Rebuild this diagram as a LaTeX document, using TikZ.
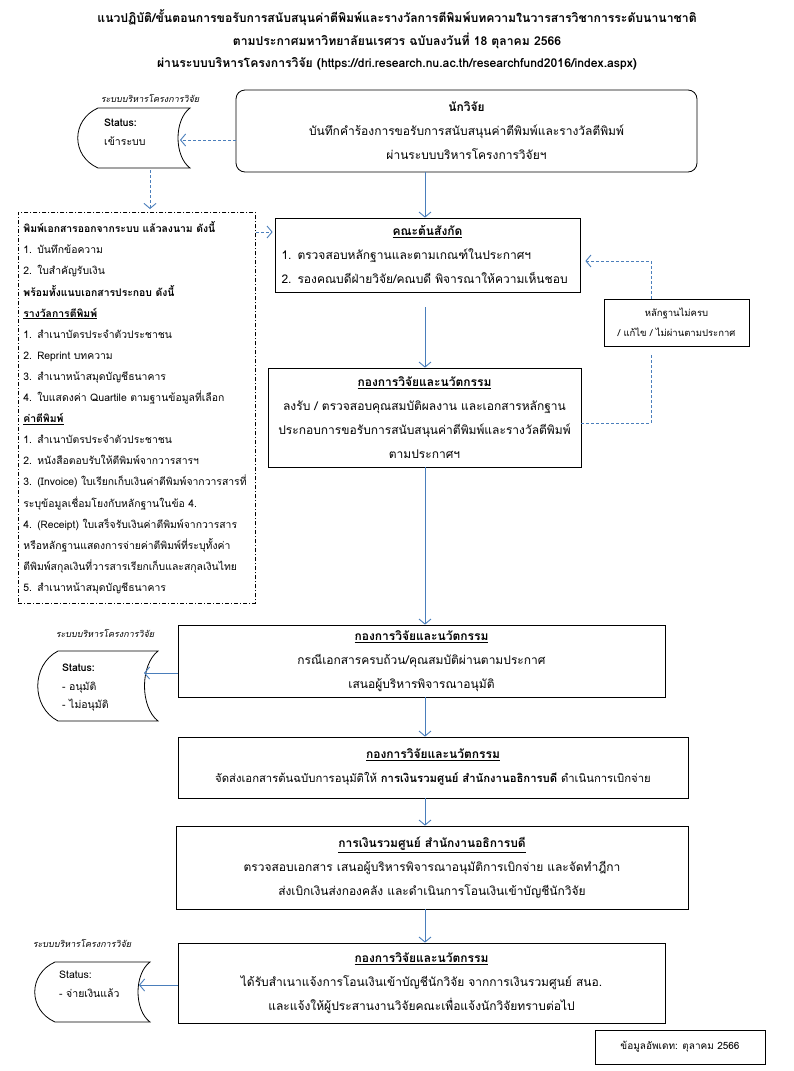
\documentclass[tikz,border=0pt]{standalone}
\usepackage{fontspec}
\setmainfont{Loma}[Script=Thai]
\usetikzlibrary{arrows.meta, positioning, calc}
\definecolor{flowblue}{RGB}{74,126,187}

\begin{document}
\begin{tikzpicture}[x=1pt, y=-1pt,
  box/.style={draw, line width=0.8pt, align=center, inner sep=3pt, font=\fontsize{12}{24}\selectfont},
  flow/.style={-{Straight Barb[length=5pt,width=12pt]}, flowblue, line width=0.9pt},
  dflow/.style={flow, dash pattern=on 3pt off 2pt},
  sysname/.style={font=\itshape\fontsize{9}{11}\selectfont},
  stat/.style={align=left, anchor=north west, inner sep=0pt, font=\fontsize{10.5}{18.5}\selectfont}]
\useasboundingbox (0,0) rectangle (794,1071);
% Title
\node[font=\bfseries\fontsize{12.2}{22.5}\selectfont, align=center] (title) at (397,40)
  {แนวปฏิบัติ/ขั้นตอนการขอรับการสนับสนุนค่าตีพิมพ์และรางวัลการตีพิมพ์บทความในวารสารวิชาการระดับนานาชาติ\\
   ตามประกาศมหาวิทยาลัยนเรศวร ฉบับลงวันที่ 18 ตุลาคม 2566\\
   ผ่านระบบบริหารโครงการวิจัย (https://dri.research.nu.ac.th/researchfund2016/index.aspx)};
% Main column x of the solid arrows
\coordinate (col) at (425,0);
% Researcher
\node[box, rounded corners=9pt, minimum width=461, minimum height=82] (researcher) at (466.5,131)
  {\textbf{นักวิจัย}\\บันทึกคำร้องการขอรับการสนับสนุนค่าตีพิมพ์และรางวัลตีพิมพ์\\ผ่านระบบบริหารโครงการวิจัยฯ};
% Status 1 (stored data shape)
\node[sysname] (sys1) at (150,98) {ระบบบริหารโครงการวิจัย};
\draw[line width=0.8pt] (98,108) -- (190,108) .. controls (174,120) and (174,156) .. (190,168)
  -- (98,168) .. controls (71,156) and (71,120) .. (98,108) -- cycle;
\node[stat] (stat1) at (104,119) {\textbf{Status:}\\เข้าระบบ};
\coordinate (s1in) at (180,140);
\coordinate (s1out) at (150,170);
% Faculty
\node[box, minimum width=305, minimum height=74, text width=292, align=left] (faculty) at (427.5,255)
  {\makebox[\linewidth][c]{\underline{\textbf{คณะต้นสังกัด}}}\\
   1. ตรวจสอบหลักฐานและตามเกณฑ์ในประกาศฯ\\
   2. รองคณบดีฝ่ายวิจัย/คณบดี พิจารณาให้ความเห็นชอบ};
% Documents to attach
\node[draw, line width=0.8pt, dash pattern=on 4pt off 2pt on 1pt off 2pt, anchor=north west,
  text width=227, inner xsep=5, inner ysep=4, minimum height=391, align=left,
  font=\fontsize{10.4}{21.1}\selectfont] (docs) at (18,212)
  {\textbf{พิมพ์เอกสารออกจากระบบ แล้วลงนาม ดังนี้}\\
   1. บันทึกข้อความ\\
   2. ใบสำคัญรับเงิน\\
   \textbf{พร้อมทั้งแนบเอกสารประกอบ ดังนี้}\\
   \underline{\textbf{รางวัลการตีพิมพ์}}\\
   1. สำเนาบัตรประจำตัวประชาชน\\
   2. Reprint บทความ\\
   3. สำเนาหน้าสมุดบัญชีธนาคาร\\
   4. ใบแสดงค่า Quartile ตามฐานข้อมูลที่เลือก\\
   \underline{\textbf{ค่าตีพิมพ์}}\\
   1. สำเนาบัตรประจำตัวประชาชน\\
   2. หนังสือตอบรับให้ตีพิมพ์จากวารสารฯ\\
   \mbox{3. (Invoice) ใบเรียกเก็บเงินค่าตีพิมพ์จากวารสารที่}\\
   ระบุข้อมูลเชื่อมโยงกับหลักฐานในข้อ 4.\\
   \mbox{4. (Receipt) ใบเสร็จรับเงินค่าตีพิมพ์จากวารสาร}\\
   \mbox{หรือหลักฐานแสดงการจ่ายค่าตีพิมพ์ที่ระบุทั้งค่า}\\
   \mbox{ตีพิมพ์สกุลเงินที่วารสารเรียกเก็บและสกุลเงินไทย}\\
   5. สำเนาหน้าสมุดบัญชีธนาคาร};
% Not complete
\node[box, minimum width=145, minimum height=47, font=\fontsize{9.5}{20}\selectfont] (incomplete) at (676.5,322.5)
  {หลักฐานไม่ครบ\\/ แก้ไข / ไม่ผ่านตามประกาศ};
% Research and Innovation Division 1
\node[box, minimum width=313, minimum height=99] (rid1) at (424.5,417.5)
  {\underline{\textbf{กองการวิจัยและนวัตกรรม}}\\
   ลงรับ / ตรวจสอบคุณสมบัติผลงาน และเอกสารหลักฐาน\\
   ประกอบการขอรับการสนับสนุนค่าตีพิมพ์และรางวัลตีพิมพ์\\
   ตามประกาศฯ};
% Research and Innovation Division 2
\node[box, minimum width=487, minimum height=72] (rid2) at (421.5,661)
  {\underline{\textbf{กองการวิจัยและนวัตกรรม}}\\
   กรณีเอกสารครบถ้วน/คุณสมบัติผ่านตามประกาศ\\
   เสนอผู้บริหารพิจารณาอนุมัติ};
% Status 2
\node[sysname] (sys2) at (105,633) {ระบบบริหารโครงการวิจัย};
\draw[line width=0.8pt] (58,651) -- (158,651) .. controls (140,665) and (140,707) .. (158,721)
  -- (58,721) .. controls (31,707) and (31,665) .. (58,651) -- cycle;
\node[stat] (stat2) at (62,664) {\textbf{Status:}\\- อนุมัติ\\- ไม่อนุมัติ};
\coordinate (s2in) at (144,673);
% Research and Innovation Division 3
\node[box, minimum width=510, minimum height=61] (rid3) at (433,767.5)
  {\underline{\textbf{กองการวิจัยและนวัตกรรม}}\\
   {\fontsize{11.3}{24}\selectfont จัดส่งเอกสารต้นฉบับการอนุมัติให้ \textbf{การเงินรวมศูนย์ สำนักงานอธิการบดี} ดำเนินการเบิกจ่าย}};
% Central Finance
\node[box, minimum width=512, minimum height=83] (finance) at (432,867.5)
  {\underline{\textbf{การเงินรวมศูนย์ สำนักงานอธิการบดี}}\\
   ตรวจสอบเอกสาร เสนอผู้บริหารพิจารณาอนุมัติการเบิกจ่าย และจัดทำฎีกา\\
   ส่งเบิกเงินส่งกองคลัง และดำเนินการโอนเงินเข้าบัญชีนักวิจัย};
% Research and Innovation Division 4
\node[box, minimum width=487, minimum height=80] (rid4) at (421.5,983)
  {\underline{\textbf{กองการวิจัยและนวัตกรรม}}\\
   ได้รับสำเนาแจ้งการโอนเงินเข้าบัญชีนักวิจัย จากการเงินรวมศูนย์ สนอ.\\
   และแจ้งให้ผู้ประสานงานวิจัยคณะเพื่อแจ้งนักวิจัยทราบต่อไป};
% Status 3
\node[sysname] (sys3) at (82,943) {ระบบบริหารโครงการวิจัย};
\draw[line width=0.8pt] (55,962) -- (150,962) .. controls (134,974) and (134,1010) .. (150,1022)
  -- (55,1022) .. controls (28,1010) and (28,974) .. (55,962) -- cycle;
\node[stat] (stat3) at (59,971) {Status:\\- จ่ายเงินแล้ว};
\coordinate (s3in) at (139,985);
% Update note
\node[box, minimum width=170, minimum height=34, font=\fontsize{10}{12}\selectfont] (update) at (680,1047)
  {ข้อมูลอัพเดท: ตุลาคม 2566};
% Solid flow
\draw[flow] (researcher.south -| col) -- (faculty.north -| col);
\draw[flow, shorten <=15pt] (faculty.south -| col) -- (rid1.north -| col);
\draw[flow] (rid1.south -| col) -- (rid2.north -| col);
\draw[flow] (rid2.south -| col) -- (rid3.north -| col);
\draw[flow] (rid3.south -| col) -- (finance.north -| col);
\draw[flow] (finance.south -| col) -- (rid4.north -| col);
\draw[flow] (rid2.west |- s2in) -- (s2in);
\draw[flow] (rid4.west |- s3in) -- (s3in);
% Dashed flow
\draw[dflow] (researcher.west |- s1in) -- (s1in);
\draw[dflow, shorten >=3pt] (s1out) -- (docs.north -| s1out);
\coordinate (dd) at (0,232);
\draw[dflow, shorten >=2pt] (docs.east |- dd) -- (faculty.west |- dd);
\coordinate (fbtop) at (651,261);
\draw[dflow, shorten >=5pt] (incomplete.north -| fbtop) -- (fbtop) -- (faculty.east |- fbtop);
\coordinate (fbbot) at (651,423);
\draw[dflow, -, shorten >=9pt] (rid1.east |- fbbot) -- (fbbot) -- (incomplete.south -| fbbot);
\end{tikzpicture}
\end{document}
